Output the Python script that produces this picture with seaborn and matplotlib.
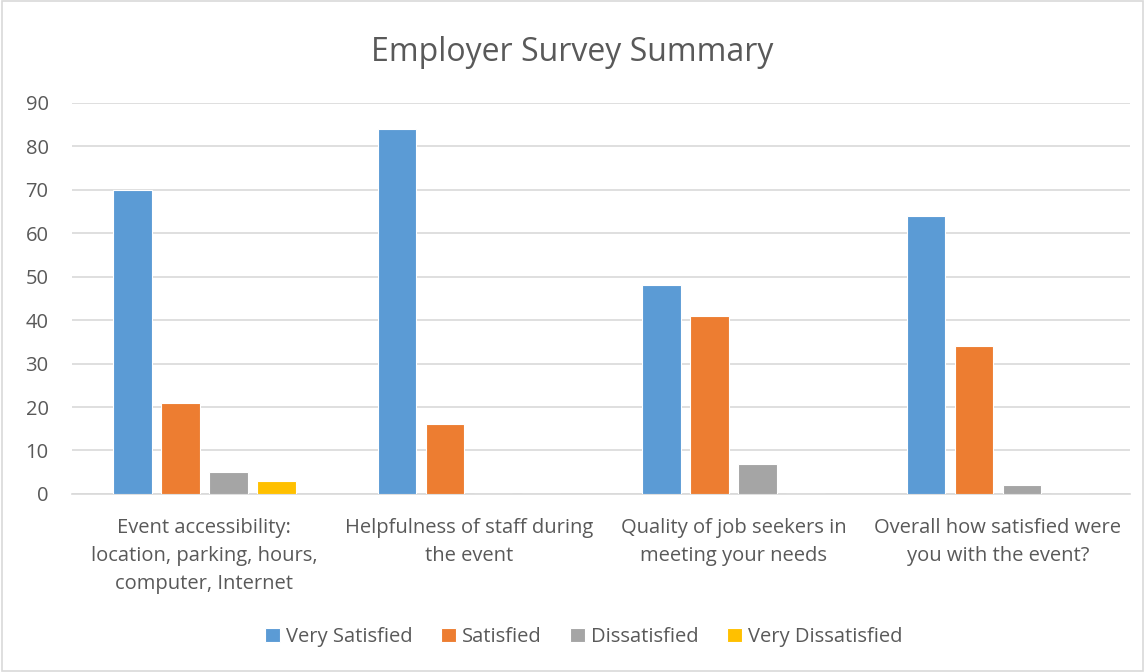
import matplotlib
matplotlib.use('Agg')
import matplotlib.pyplot as plt
import pandas as pd
import seaborn as sns

categories = [
    "Event accessibility:\nlocation, parking, hours,\ncomputer, Internet",
    "Helpfulness of staff during\nthe event",
    "Quality of job seekers in\nmeeting your needs",
    "Overall how satisfied were\nyou with the event?",
]
very_satisfied = [70, 84, 48, 64]
satisfied = [21, 16, 41, 34]
dissatisfied = [5, 0, 7, 2]
very_dissatisfied = [3, 0, 0, 0]

series_names = ["Very Satisfied", "Satisfied", "Dissatisfied", "Very Dissatisfied"]
colors = ["#5B9BD5", "#ED7D31", "#A5A5A5", "#FFC000"]

rows = []
for name, vals in zip(series_names, [very_satisfied, satisfied, dissatisfied, very_dissatisfied]):
    for cat, v in zip(categories, vals):
        rows.append({"Category": cat, "Response": name, "Count": v})
df = pd.DataFrame(rows)

sns.set_theme(style="white")
plt.rcParams['font.family'] = ['Open Sans', 'DejaVu Sans']
text_color = "#595959"

fig = plt.figure(figsize=(11.45, 6.72), dpi=100)
ax = fig.add_axes([0.063, 0.265, 0.924, 0.582])

sns.barplot(data=df, x="Category", y="Count", hue="Response",
            hue_order=series_names, palette=colors, saturation=1,
            width=0.726, gap=0.2, edgecolor="white", linewidth=0.8,
            ax=ax, zorder=3)

ax.set_ylim(0, 90)
ax.set_yticks(range(0, 91, 10))
ax.yaxis.grid(True, color="#D9D9D9", linewidth=1.2, zorder=0)
ax.set_axisbelow(True)
for side in ["top", "right", "left"]:
    ax.spines[side].set_visible(False)
ax.spines["bottom"].set_color("#D9D9D9")
ax.spines["bottom"].set_linewidth(1.2)
ax.tick_params(axis="both", length=0, colors=text_color, labelsize=14.5)
ax.tick_params(axis="x", pad=17)
ax.tick_params(axis="y", pad=17)
for lbl in ax.get_xticklabels():
    lbl.set_linespacing(1.55)
ax.set_xlabel("")
ax.set_ylabel("")
ax.set_xlim(-0.5, 3.5)

fig.suptitle("Employer Survey Summary", x=0.5, y=0.947, fontsize=23, color=text_color)

handles, labels = ax.get_legend_handles_labels()
ax.get_legend().remove()
leg = fig.legend(handles, labels, loc="center", bbox_to_anchor=(0.51, 0.052), ncol=4,
                 frameon=False, fontsize=14.5, handlelength=0.75, handleheight=0.75,
                 handletextpad=0.3, columnspacing=1.4)
for t in leg.get_texts():
    t.set_color(text_color)

# chart border
fig.patches.append(plt.Rectangle((0.002, 0.002), 0.996, 0.996, transform=fig.transFigure,
                                 fill=False, edgecolor="#D9D9D9", linewidth=1.2))

fig.savefig("out.png", dpi=100)
